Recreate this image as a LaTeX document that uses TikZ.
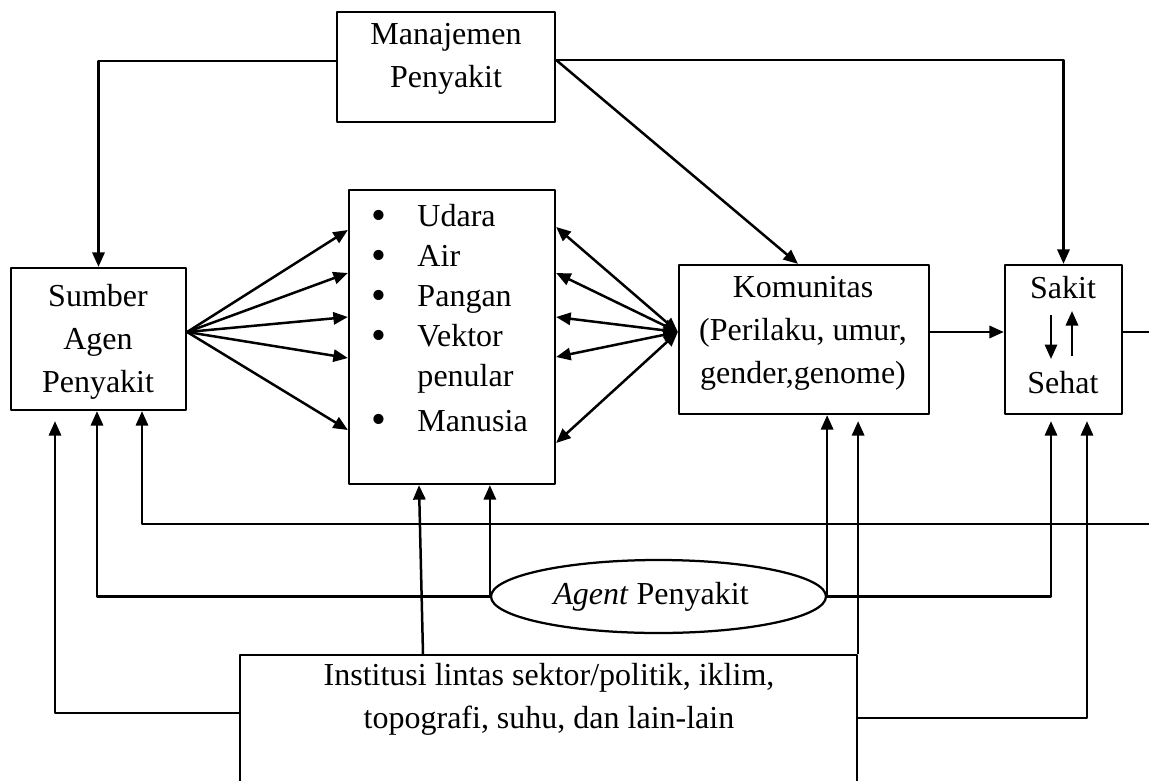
\documentclass[tikz,border=0pt]{standalone}
\usepackage{fontspec}
\setmainfont{Liberation Serif}
\usepackage{tikz}
\usetikzlibrary{arrows.meta,shapes,positioning}
\newcommand{\butir}{\makebox[18.4pt][l]{\raisebox{-1pt}{\fontsize{17}{17}\selectfont\textbullet}}}

\begin{document}
\begin{tikzpicture}[>={Triangle[length=5.8pt,width=4.9pt]},line join=bevel,x=0.4pt,y=-0.4pt,
  kotak/.style={draw,rectangle,inner sep=0pt},
  teks/.style={align=center,inner sep=0pt,font=\fontsize{12.8}{17.2}\selectfont}]
\useasboundingbox (0,0) rectangle (1149,781);
\clip (0,0) rectangle (1149,781);
%%
\begin{scope}[line width=0.9pt]
  \node (Manajemen) at (446,67) [kotak,minimum width=87.2pt,minimum height=44pt] {};
  \node (Sumber) at (98.5,339) [kotak,minimum width=70pt,minimum height=56.8pt] {};
  \node (Media) at (452,337) [kotak,minimum width=82.4pt,minimum height=117.6pt] {};
  \node (Komunitas) at (804,339.5) [kotak,minimum width=100pt,minimum height=59.6pt] {};
  \node (Sakit) at (1063.5,339.5) [kotak,minimum width=46.8pt,minimum height=59.6pt] {};
  \node (Agent) at (658.5,596.5) [draw,ellipse,teks,minimum width=134pt,minimum height=29.2pt] {\textit{Agent} Penyakit\hspace*{6pt}};
  \node (Institusi) at (548.5,745) [kotak,minimum width=246.8pt,minimum height=72pt] {};
\end{scope}
\begin{scope}[teks]
  \node (Manajemen teks) at (446,59) {Manajemen\\Penyakit};
  \node (Sumber teks) at (98,342) {Sumber\\Agen\\Penyakit};
  \node (Komunitas teks) at (803,333) {Komunitas\\(Perilaku, umur,\\gender,genome)};
  \node (Institusi teks) at (549,699) {Institusi lintas sektor/politik, iklim,\\topografi, suhu, dan lain-lain};
  \node (Sakit teks) at (1063,288) {Sakit};
  \node (Sehat teks) at (1063,383) {Sehat};
  \node (Media teks) at (371,204) [anchor=north west,align=left,font=\fontsize{12.8}{16}\selectfont]
    {\butir Udara\\\butir Air\\\butir Pangan\\\butir Vektor\\\hspace*{18.4pt}penular\\[1.8pt]\butir Manusia};
\end{scope}
\coordinate (kanan atas) at (1149,332);
\coordinate (kanan bawah) at (1149,524);
\begin{scope}[line width=1pt]
  \draw [->] (Manajemen.west |- 0,61) -| (Sumber.north);
  \draw [->] (Manajemen.east |- 0,60) -| (Sakit.north);
  \draw [->] (Manajemen.east |- 0,60) -- (Komunitas.north -| 798,0);
  \foreach \y in {230,273,317,358,430}
    \draw [->] (Sumber.east |- 0,332) -- (Media.west |- 0,\y);
  \foreach \y in {227,273,317,357,443}
    \draw [<->] (Media.east |- 0,\y) -- (Komunitas.west |- 0,332);
  \draw [->] (Komunitas.east |- 0,332) -- (Sakit.west |- 0,332);
  \draw [] (Sakit.east |- 0,332) -- (kanan atas);
  \draw [->] (Sakit.center) ++(-12.5,-24.5) -- ++(0,44);
  \draw [->] (Sakit.center) ++(8.5,16.5) -- ++(0,-45);
  %
  \draw [->] (kanan bawah) -| (Sumber.south -| 142,0);
  \draw [->] (Agent.west) -| (Sumber.south -| 97,0);
  \draw [->,shorten >=4pt] (Institusi.west |- 0,713) -| (Sumber.south -| 55,0);
  \draw [->] (Agent.west) -- (Agent.west |- Media.south);
  \draw [->] (Institusi.north -| 423,0) -- (Media.south -| 419,0);
  \draw [->] (Agent.east) -- (Agent.east |- Komunitas.south);
  \draw [->,shorten >=2.4pt] (Agent.east) -| (Sakit.south -| 1051,0);
  \draw [->,shorten >=2.4pt] (Institusi.north east) -- (Komunitas.south -| Institusi.north east);
  \draw [->,shorten >=2.4pt] (Institusi.east |- 0,718) -| (Sakit.south -| 1087,0);
\end{scope}
%
\end{tikzpicture}
\end{document}
